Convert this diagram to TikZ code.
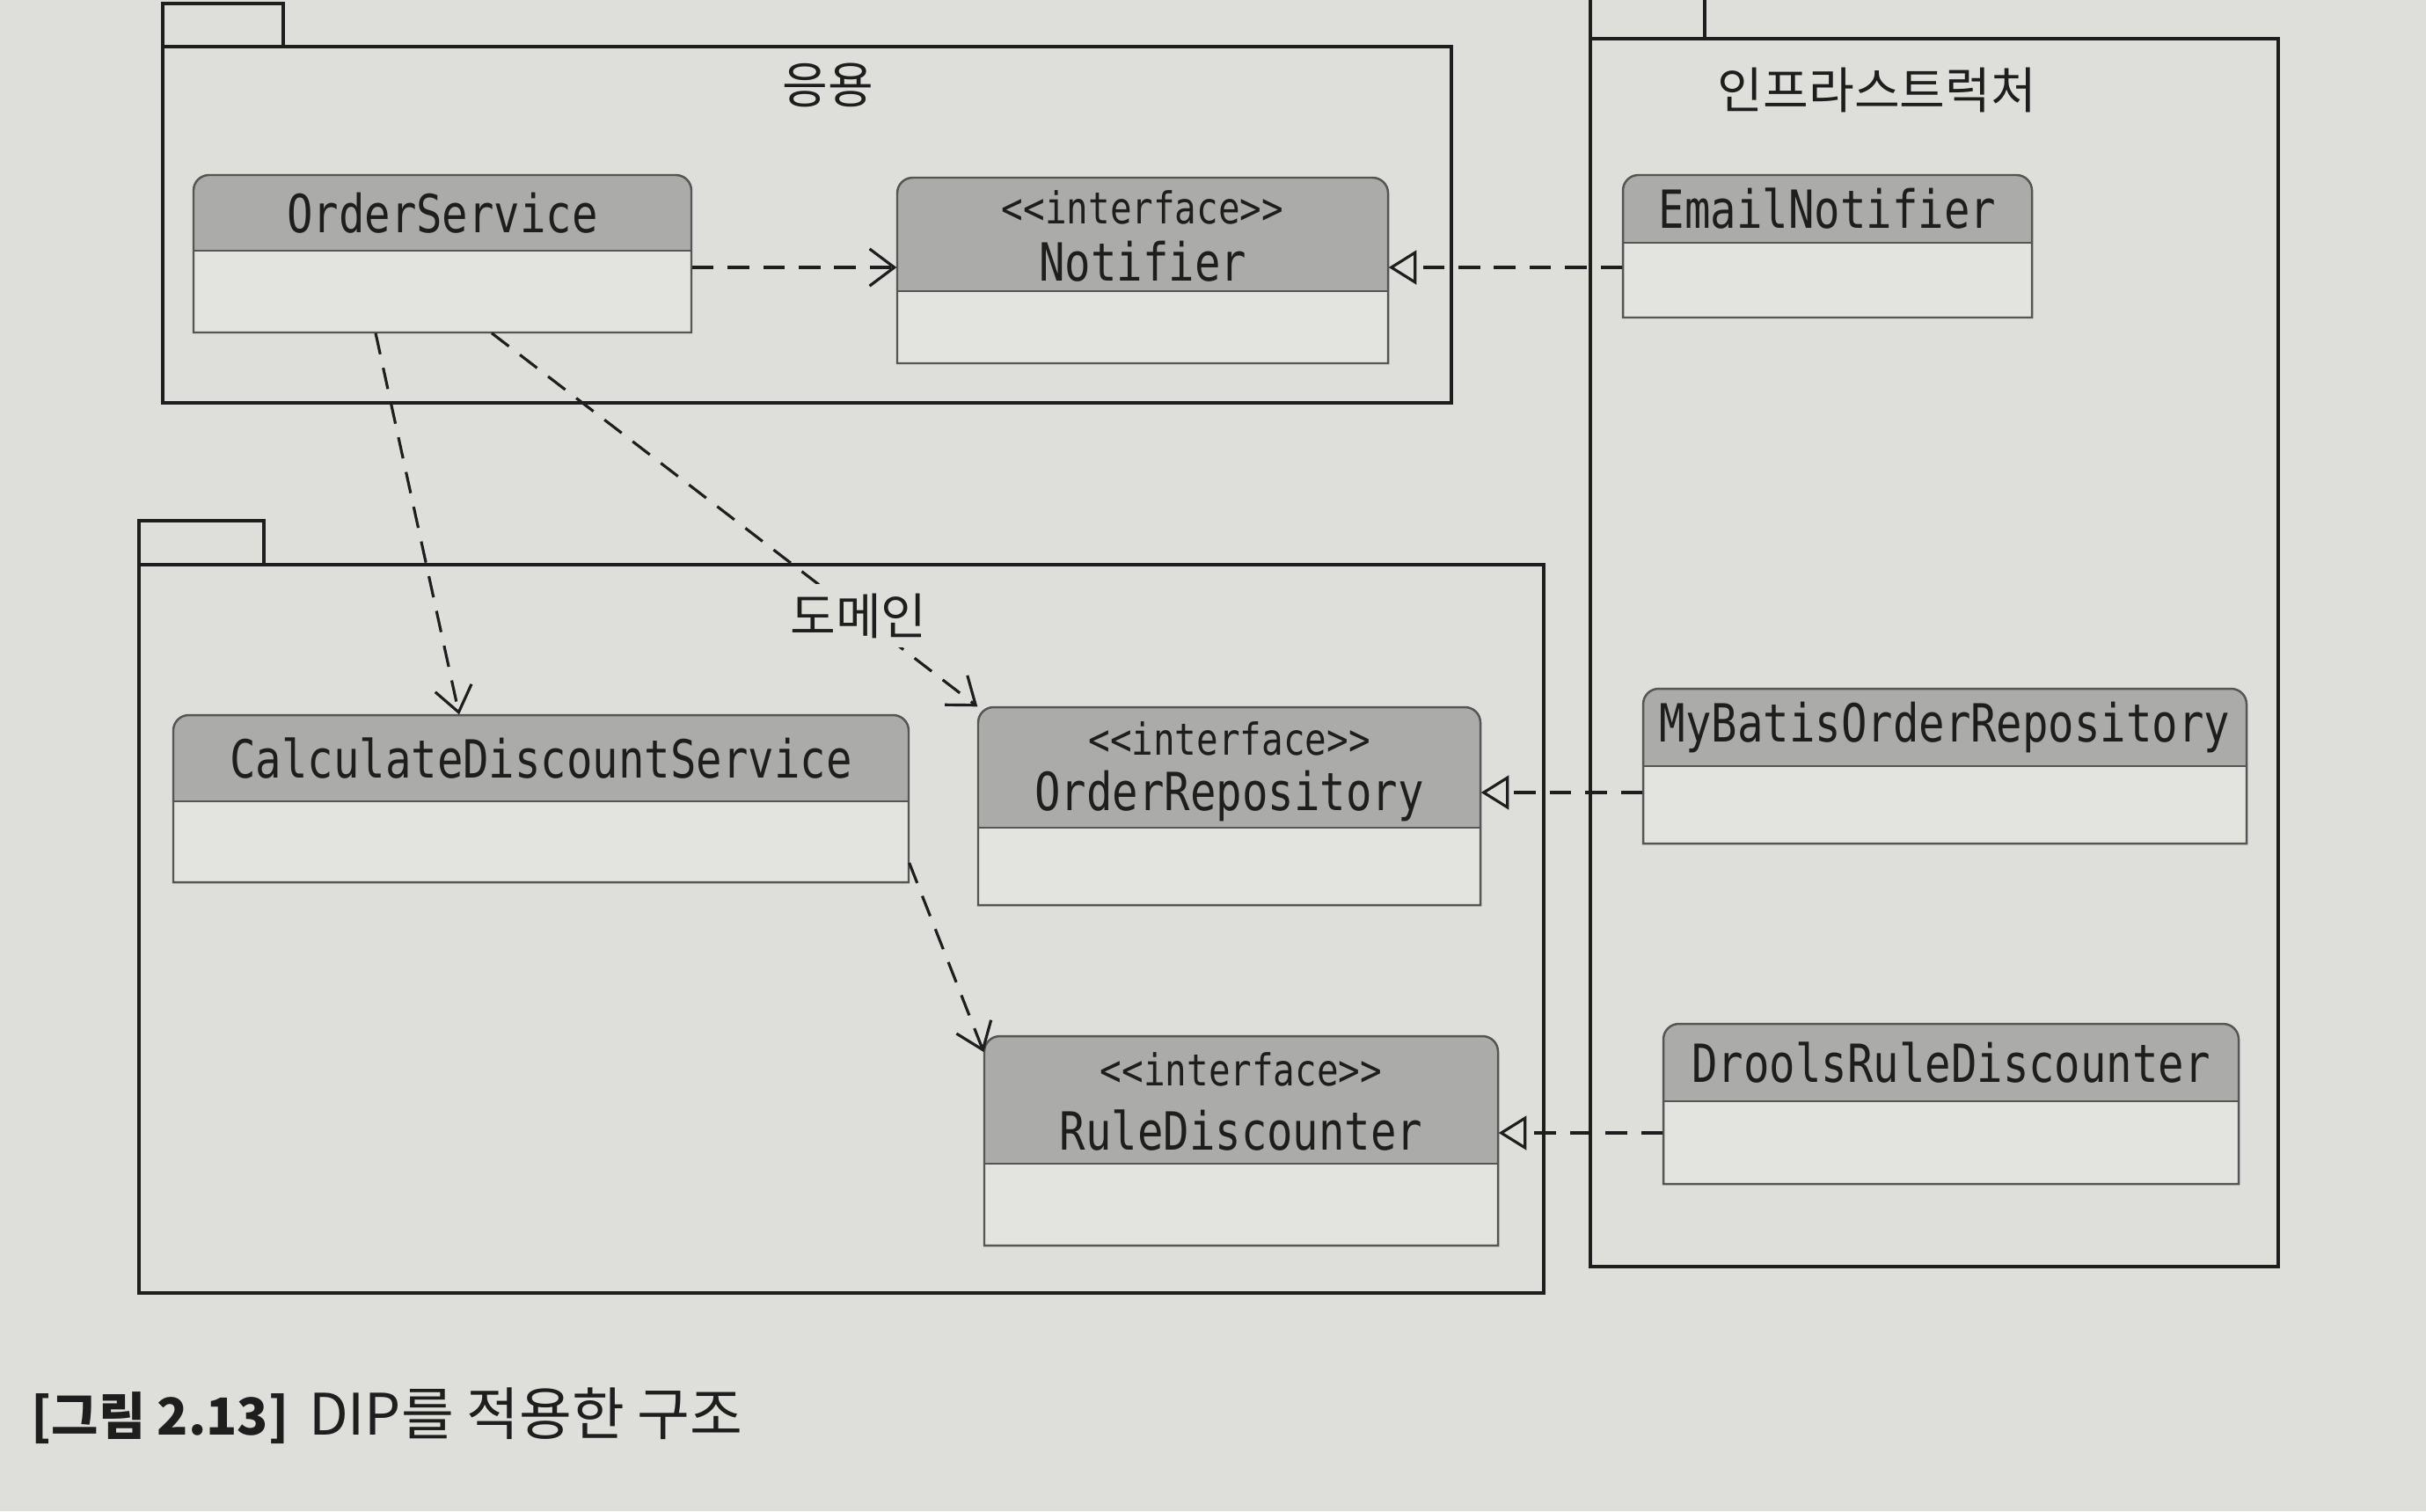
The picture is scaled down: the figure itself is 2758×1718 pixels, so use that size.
\documentclass[tikz,border=0pt]{standalone}
\usepackage{fontspec}
\setmainfont{DejaVu Sans}
\newfontfamily\classfont[FakeStretch=0.82]{DejaVu Sans Mono}
\newfontfamily\krfont{Noto Sans CJK KR}
\usetikzlibrary{arrows.meta,fit}
\definecolor{pagebg}{HTML}{DEDEDA}
\definecolor{headfill}{HTML}{ABABA9}
\definecolor{bodyfill}{HTML}{E3E3DF}
\definecolor{ink}{HTML}{1E1E1E}
\definecolor{boxline}{HTML}{555555}
\begin{document}
\begin{tikzpicture}[x=0.1mm,y=-0.1mm,
  pkg/.style={draw=ink, line width=1.2pt},
  classline/.style={draw=boxline, line width=0.7pt},
  classname/.style={font=\classfont\fontsize{17pt}{19pt}\selectfont, text=ink, inner sep=0pt},
  stereo/.style={font=\classfont\fontsize{14.2pt}{16pt}\selectfont, text=ink, inner sep=0pt},
  pkgtitle/.style={font=\krfont\fontsize{16pt}{19pt}\selectfont, text=ink, inner sep=3pt},
  caption/.style={font=\krfont\fontsize{18.5pt}{21pt}\selectfont, text=ink, inner sep=0pt},
  dep/.style={draw=ink, line width=0.9pt, dash pattern=on 7pt off 4.5pt, -{Straight Barb[length=8pt,width=12pt,line width=0.9pt]}},
  real/.style={draw=ink, line width=0.9pt, dash pattern=on 7pt off 4.5pt, -{Triangle[open,length=9pt,width=11pt,fill=pagebg,line width=0.9pt]}}
]
\useasboundingbox[fill=pagebg] (0,0) rectangle (2758,1718);

% packages
\draw[pkg] (185,4) rectangle (322,53);
\draw[pkg] (185,53) rectangle (1650,458);
\draw[pkg] (1808,-20) rectangle (1938,44);
\draw[pkg] (1808,44) rectangle (2590,1440);
\draw[pkg] (158,592) rectangle (300,642);
\draw[pkg] (158,642) rectangle (1755,1470);

% plain classes
\foreach \n/\xa/\ya/\xb/\yb/\yh/\txt in {
  os/220/199/786/378/285/OrderService,
  email/1845/199/2310/361/276/EmailNotifier,
  cds/197/813/1033/1003/911/CalculateDiscountService,
  mybatis/1868/783/2554/959/871/MyBatisOrderRepository,
  drools/1891/1164/2545/1346/1252/DroolsRuleDiscounter}
{
  \fill[bodyfill] (\xa,\yh) rectangle (\xb,\yb);
  \fill[headfill] (\xa,\yh) [rounded corners=5] -- (\xa,\ya) -- (\xb,\ya) [sharp corners] -- (\xb,\yh) -- cycle;
  \draw[classline] (\xa,\yb) [rounded corners=5] -- (\xa,\ya) -- (\xb,\ya) [sharp corners] -- (\xb,\yb) -- cycle;
  \draw[classline] (\xa,\yh) -- (\xb,\yh);
  \node[fit={(\xa,\ya) (\xb,\yb)}, inner sep=0pt] (\n) {};
  \node[classname] (\n-t) at ({(\xa+\xb)/2},{(\ya+\yh)/2}) {\txt};
}

% interface classes
\foreach \n/\xa/\ya/\xb/\yb/\yh/\txt in {
  notif/1020/202/1578/413/331/Notifier,
  orepo/1112/804/1683/1029/941/OrderRepository,
  rd/1119/1178/1703/1416/1323/RuleDiscounter}
{
  \fill[bodyfill] (\xa,\yh) rectangle (\xb,\yb);
  \fill[headfill] (\xa,\yh) [rounded corners=5] -- (\xa,\ya) -- (\xb,\ya) [sharp corners] -- (\xb,\yh) -- cycle;
  \draw[classline] (\xa,\yb) [rounded corners=5] -- (\xa,\ya) -- (\xb,\ya) [sharp corners] -- (\xb,\yb) -- cycle;
  \draw[classline] (\xa,\yh) -- (\xb,\yh);
  \node[fit={(\xa,\ya) (\xb,\yb)}, inner sep=0pt] (\n) {};
  \node[stereo] (\n-s) at ({(\xa+\xb)/2},{\ya+0.26*(\yh-\ya)}) {<<interface>>};
  \node[classname] (\n-t) at ({(\xa+\xb)/2},{\ya+0.74*(\yh-\ya)}) {\txt};
}

% dependencies
\draw[dep] (os.east |- 0,304) -- (notif.west |- 0,304);
\draw[dep] (os.south -| 427,0) -- (cds.north -| 522,0);
\draw[dep] (os.south -| 559,0) -- (orepo.north west);
\draw[dep] (cds.east |- 0,981) -- (rd.west |- 0,1196);

% realizations
\draw[real] (email.west |- 0,304) -- (notif.east |- 0,304);
\draw[real] (mybatis.west |- 0,901) -- (orepo.east |- 0,901);
\draw[real] (drools.west |- 0,1288) -- (rd.east |- 0,1288);

% package titles
\node[pkgtitle] (apptitle) at (941,97) {응용};
\node[pkgtitle] (infratitle) at (2134,102) {인프라스트럭처};
\node[pkgtitle, fill=pagebg] (domtitle) at (976,700) {도메인};

% caption
\node[caption, anchor=west] (cap) at (35,1610) {{\bfseries\fontsize{16.5pt}{19pt}\selectfont [그림 2.13]}\hspace{0.35em}DIP를 적용한 구조};
\end{tikzpicture}
\end{document}
